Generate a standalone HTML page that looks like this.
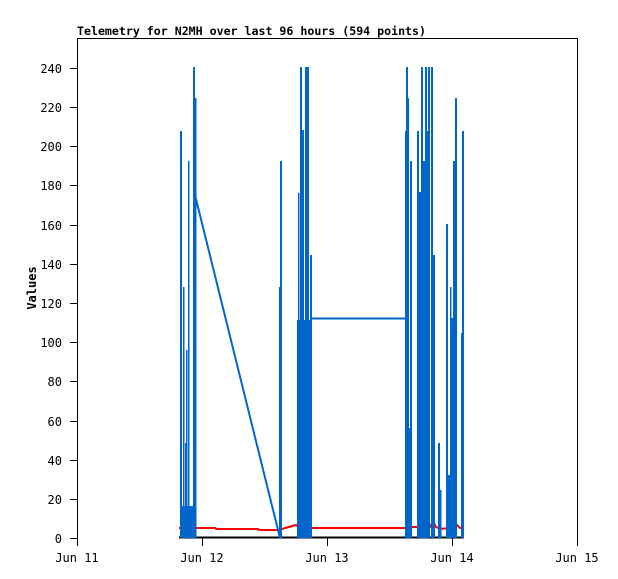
<!DOCTYPE html>
<html><head><meta charset="utf-8"><style>
html,body{margin:0;padding:0;background:#fff;}
svg{display:block;}
text{font-family:"DejaVu Sans Mono","Liberation Mono",monospace;font-size:12px;fill:#000;}
</style></head><body>
<svg width="618" height="579" viewBox="0 0 618 579" xmlns="http://www.w3.org/2000/svg">
<text x="77" y="35" style="font-weight:bold;font-size:11.6px">Telemetry for N2MH over last 96 hours (594 points)</text>
<text transform="translate(36,288) rotate(-90)" text-anchor="middle" style="font-weight:bold">Values</text>
<g stroke="#000" stroke-width="1">
<line x1="77.5" y1="38" x2="77.5" y2="538"/>
<line x1="77" y1="38.5" x2="577" y2="38.5"/>
<line x1="577.5" y1="38" x2="577.5" y2="538"/>
<line x1="70" y1="68.5" x2="77" y2="68.5"/><line x1="70" y1="107.5" x2="77" y2="107.5"/><line x1="70" y1="146.5" x2="77" y2="146.5"/><line x1="70" y1="185.5" x2="77" y2="185.5"/><line x1="70" y1="225.5" x2="77" y2="225.5"/><line x1="70" y1="264.5" x2="77" y2="264.5"/><line x1="70" y1="303.5" x2="77" y2="303.5"/><line x1="70" y1="342.5" x2="77" y2="342.5"/><line x1="70" y1="381.5" x2="77" y2="381.5"/><line x1="70" y1="421.5" x2="77" y2="421.5"/><line x1="70" y1="460.5" x2="77" y2="460.5"/><line x1="70" y1="499.5" x2="77" y2="499.5"/><line x1="70" y1="538.5" x2="77" y2="538.5"/>
<line x1="77.5" y1="538" x2="77.5" y2="546"/><line x1="202.5" y1="538" x2="202.5" y2="546"/><line x1="327.5" y1="538" x2="327.5" y2="546"/><line x1="452.5" y1="538" x2="452.5" y2="546"/><line x1="577.5" y1="538" x2="577.5" y2="546"/>
</g>
<g text-anchor="end">
<text x="62" y="73">240</text><text x="62" y="112">220</text><text x="62" y="151">200</text><text x="62" y="190">180</text><text x="62" y="230">160</text><text x="62" y="269">140</text><text x="62" y="308">120</text><text x="62" y="347">100</text><text x="62" y="386">80</text><text x="62" y="426">60</text><text x="62" y="465">40</text><text x="62" y="504">20</text><text x="62" y="543">0</text>
</g>
<g text-anchor="middle">
<text x="77" y="562">Jun 11</text><text x="202" y="562">Jun 12</text><text x="327" y="562">Jun 13</text><text x="452" y="562">Jun 14</text><text x="577" y="562">Jun 15</text>
</g>
<polyline fill="none" stroke="#f00" stroke-width="2" points="179,528 215,528 216,529 258,529 259,530 280,530 285,528 296,525 300,528 405,528 410,527 420,527 425,529 430,527 433,521 436,527 440,529 450,528 456,524 460,528 464,528"/>
<line x1="179" y1="537.5" x2="464" y2="537.5" stroke="#000" stroke-width="2"/>
<g fill="#0066cc">
<rect x="180" y="131" width="2" height="407"/>
<rect x="180" y="506" width="16" height="32"/>
<rect x="183" y="287" width="1.5" height="251"/>
<rect x="185" y="443" width="1.5" height="95"/>
<rect x="186" y="350" width="1.5" height="188"/>
<rect x="188" y="161" width="1.5" height="377"/>
<rect x="193" y="67" width="2" height="471"/>
<rect x="194.5" y="98" width="2" height="440"/>
<rect x="279" y="287" width="1.5" height="251"/>
<rect x="280" y="161" width="2" height="377"/>
<rect x="297" y="320" width="15" height="218"/>
<rect x="298" y="193" width="1.5" height="345"/>
<rect x="300" y="67" width="2" height="471"/>
<rect x="302" y="130" width="2" height="408"/>
<rect x="305" y="67" width="2" height="471"/>
<rect x="307" y="67" width="2" height="471"/>
<rect x="310" y="255" width="2" height="283"/>
<rect x="405" y="131" width="2" height="407"/>
<rect x="406" y="67" width="2" height="471"/>
<rect x="407.5" y="98" width="1.5" height="440"/>
<rect x="408" y="428" width="3" height="110"/>
<rect x="410" y="161" width="2" height="377"/>
<rect x="417" y="131" width="2" height="407"/>
<rect x="419" y="192" width="7" height="346"/>
<rect x="421" y="67" width="2" height="471"/>
<rect x="423" y="161" width="2" height="377"/>
<rect x="425" y="67" width="2" height="471"/>
<rect x="426" y="131" width="2" height="407"/>
<rect x="428" y="67" width="2" height="471"/>
<rect x="431" y="67" width="2" height="471"/>
<rect x="431" y="255" width="4" height="283"/>
<rect x="433" y="287" width="2" height="251"/>
<rect x="438" y="443" width="2" height="95"/>
<rect x="440" y="490" width="1.5" height="48"/>
<rect x="446" y="224" width="2" height="314"/>
<rect x="448" y="475" width="2" height="63"/>
<rect x="450" y="287" width="1.5" height="251"/>
<rect x="451" y="318" width="2" height="220"/>
<rect x="453" y="161" width="2" height="377"/>
<rect x="455" y="98" width="2" height="440"/>
<rect x="461" y="333" width="3" height="205"/>
<rect x="462" y="131" width="2" height="407"/>
</g>
<polyline fill="none" stroke="#0066cc" stroke-width="2" points="195,195 280,538"/>
<line x1="311" y1="318.5" x2="405" y2="318.5" stroke="#0066cc" stroke-width="2"/>
</svg>
</body></html>
